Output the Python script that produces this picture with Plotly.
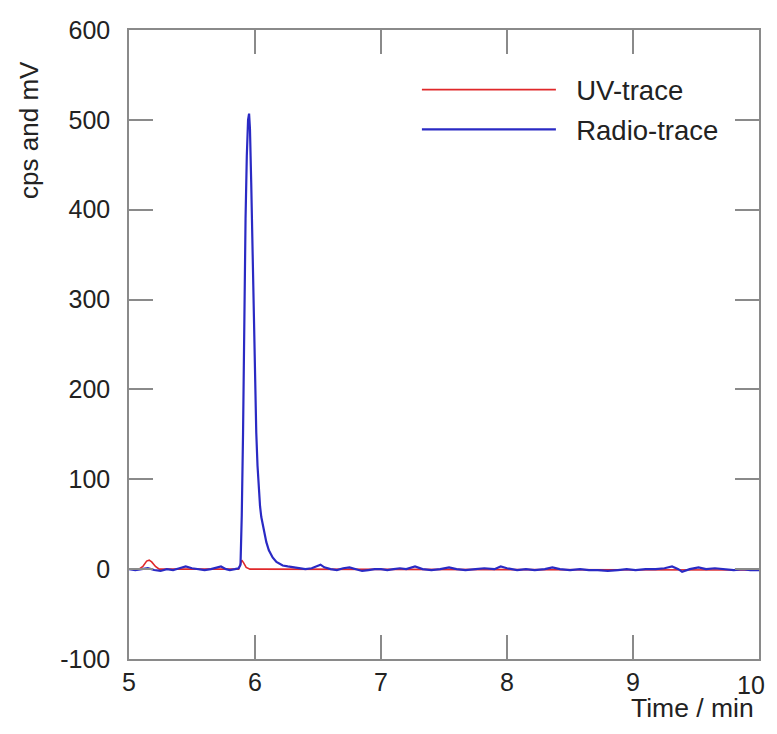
import plotly.graph_objects as go

# Radio-trace (cps)
radio_x = [5.00, 5.05, 5.10, 5.15, 5.20, 5.25, 5.30, 5.35, 5.40, 5.45, 5.50, 5.55, 5.60, 5.65,
           5.70, 5.73, 5.77, 5.80, 5.84, 5.87, 5.885, 5.895, 5.905, 5.915, 5.925, 5.935, 5.945, 5.953,
           5.96, 5.97, 5.98, 5.99, 6.00, 6.01, 6.02, 6.03, 6.04, 6.05, 6.07, 6.09, 6.11, 6.14,
           6.17, 6.22, 6.26, 6.30, 6.35, 6.40, 6.45, 6.50, 6.52, 6.55, 6.60, 6.65, 6.70, 6.75,
           6.80, 6.85, 6.90, 6.95, 7.00, 7.05, 7.10, 7.15, 7.20, 7.27, 7.33, 7.40, 7.47, 7.54,
           7.60, 7.67, 7.75, 7.82, 7.90, 7.95, 8.00, 8.08, 8.15, 8.22, 8.30, 8.36, 8.42, 8.50,
           8.58, 8.65, 8.72, 8.80, 8.88, 8.95, 9.02, 9.10, 9.18, 9.25, 9.31, 9.36, 9.39, 9.45,
           9.52, 9.58, 9.65, 9.72, 9.80, 9.87, 9.93, 10.00]
radio_y = [0, -1, 0, 1, -1, -2, 0, -1, 1, 3, 1, 0, -1, 0,
           2, 3, 0, -1, 0, 1, 5, 60, 150, 290, 390, 460, 500, 507,
           490, 430, 350, 275, 205, 152, 115, 88, 70, 58, 42, 30, 21, 13,
           8, 4, 3, 2, 1, 0, 1, 4, 5, 2, 0, -1, 1, 2,
           0, -2, -1, 0, 0, -1, 0, 1, 0, 3, 0, -1, 0, 2,
           0, -1, 0, 1, 0, 3, 1, -1, 0, -1, 0, 2, 0, -1,
           0, -1, -1, -2, -1, 0, -1, 0, 0, 1, 3, 0, -3, 0,
           2, 0, 1, 0, -1, 0, -1, -1]

# UV-trace (mV)
uv_x = [5.00, 5.08, 5.11, 5.14, 5.16, 5.18, 5.21, 5.24, 5.87, 5.88, 5.895, 5.91, 5.93, 5.96, 10.00]
uv_y = [0, 0, 3, 9, 10, 8, 3, 0, 0, 5, 10, 7, 2, 0, -1]

x_ticks = [5, 6, 7, 8, 9, 10]
y_ticks = [-100, 0, 100, 200, 300, 400, 500, 600]

FONT = "Liberation Sans, Arial, sans-serif"
AX = "#8a8a8a"
NB = "\u00a0\u00a0"

fig = go.Figure()
fig.add_trace(go.Scatter(x=uv_x, y=uv_y, mode="lines", name=NB + "UV-trace",
                         line=dict(color="#e0282a", width=1.6), legendgroup="a"))
fig.add_trace(go.Scatter(x=radio_x, y=radio_y, mode="lines", name=NB + "Radio-trace",
                         line=dict(color="#2a2ac4", width=2.2), legendgroup="b"))

axis_common = dict(showline=True, linecolor=AX, linewidth=1.5, mirror="ticks",
                   ticks="inside", ticklen=24, tickwidth=1.5, tickcolor=AX,
                   showgrid=False, zeroline=False,
                   tickfont=dict(family=FONT, size=25, color="#222"))

# last x tick label is drawn as a right-anchored annotation so it stays inside the page
x_ticktext = [str(v) for v in x_ticks[:-1]] + [""]
fig.update_xaxes(range=[5, 10], tickvals=x_ticks, ticktext=x_ticktext,
                 ticklabelstandoff=0, **axis_common)
fig.update_yaxes(range=[-100, 600], tickvals=y_ticks, ticktext=[str(v) for v in y_ticks],
                 ticklabelstandoff=12, **axis_common)

fig.update_layout(
    width=761, height=718,
    margin=dict(l=121, r=8, t=20, b=67),
    plot_bgcolor="white", paper_bgcolor="white",
    font=dict(family=FONT, size=25, color="#222"),
    showlegend=True,
    legend=dict(x=0.457, y=0.944, xanchor="left", yanchor="top",
                bgcolor="white", borderwidth=0, itemwidth=134,
                traceorder="grouped", tracegroupgap=1,
                font=dict(family=FONT, size=27.5)),
    annotations=[
        dict(text=str(x_ticks[-1]), xref="x", yref="paper", x=x_ticks[-1], y=0,
             xanchor="right", yanchor="middle", xshift=7, yshift=-26, showarrow=False,
             borderpad=0, font=dict(family=FONT, size=25, color="#222")),
        dict(text="cps and mV", textangle=-90, xref="paper", yref="paper",
             x=-0.16, y=0.8415, xanchor="center", yanchor="middle", showarrow=False,
             font=dict(family=FONT, size=26, color="#222")),
        dict(text="Time / min", xref="paper", yref="paper",
             x=0.994, y=-0.0785, xanchor="right", yanchor="middle", showarrow=False,
             borderpad=0, font=dict(family=FONT, size=26.5, color="#222")),
    ],
)

fig.write_html("out.html")
